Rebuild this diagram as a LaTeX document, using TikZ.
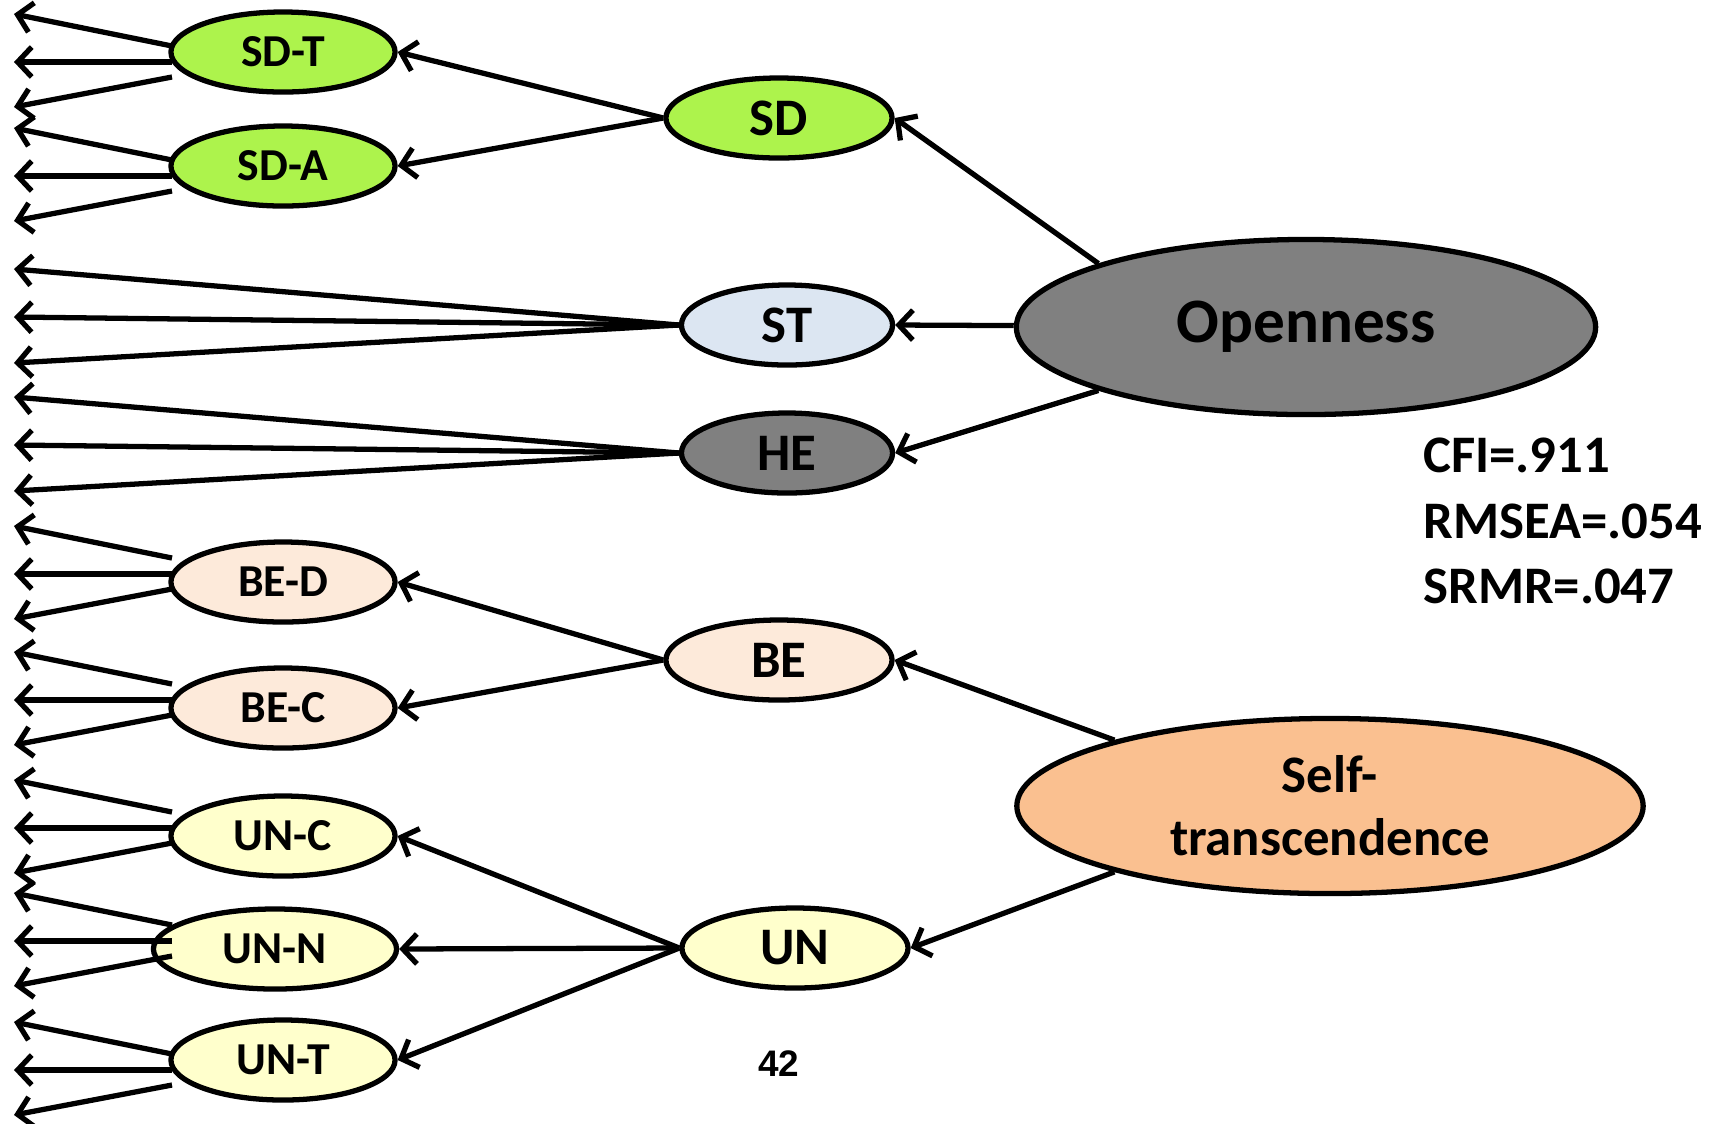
\documentclass[tikz,border=0pt]{standalone}
\usepackage{fontspec}
\setmainfont{Carlito}
\newfontfamily\pagefont{Liberation Sans}
\usetikzlibrary{shapes.geometric,arrows.meta,calc}

\definecolor{sdgreen}{HTML}{ADF34C}
\definecolor{stblue}{HTML}{DCE6F2}
\definecolor{hegray}{HTML}{808080}
\definecolor{bepeach}{HTML}{FDEADA}
\definecolor{selforange}{HTML}{FAC090}
\definecolor{unyellow}{HTML}{FFFFCC}

\begin{document}
\begin{tikzpicture}[x=0.01cm,y=-0.01cm,
	arr/.style={-{Straight Barb[length=4pt,width=8.5pt]},line width=1.5pt},
	facet/.style={ellipse,draw,line width=1.5pt,inner sep=0pt,minimum width=2.24cm,minimum height=0.8cm,font=\fontsize{13}{15}\selectfont\bfseries},
	aspect/.style={facet,minimum width=2.26cm,font=\fontsize{15}{18}\selectfont\bfseries},
	factorbox/.style={ellipse,draw,line width=1.5pt,inner sep=0pt,minimum height=1.75cm,align=center}]
	\useasboundingbox (0,0) rectangle (1714,1123);
	
	% domains
	\node[factorbox,fill=hegray,minimum width=5.79cm,font=\fontsize{18}{21}\selectfont\bfseries] (open) at (1306,327) {Openness};
	\node[factorbox,fill=selforange,minimum width=6.26cm,font=\fontsize{15}{18}\selectfont\bfseries] (self) at (1330,806) {Self-\\transcendence};
	
	% aspects
	\node[aspect,fill=sdgreen] (sd) at (779,118) {SD};
	\node[aspect,fill=stblue,minimum width=2.11cm] (st) at (787,325) {ST};
	\node[aspect,fill=hegray,minimum width=2.11cm] (he) at (787,453) {HE};
	\node[aspect,fill=bepeach] (be) at (779,660) {BE};
	\node[aspect,fill=unyellow] (un) at (795,948) {UN};
	
	% facets
	\node[facet,fill=sdgreen] (sdt) at (283,52) {SD-T};
	\node[facet,fill=sdgreen] (sda) at (283,166) {SD-A};
	\node[facet,fill=bepeach] (bed) at (283,582) {BE-D};
	\node[facet,fill=bepeach] (bec) at (283,708) {BE-C};
	\node[facet,fill=unyellow] (unc) at (283,836) {UN-C};
	\node[facet,fill=unyellow,minimum width=2.43cm] (unn) at (275,949) {UN-N};
	\node[facet,fill=unyellow] (unt) at (283,1060) {UN-T};
	
	\node[anchor=west,align=left,font=\fontsize{15}{18.6}\selectfont\bfseries] (fit) at (1411,521) {CFI=.911\\RMSEA=.054\\SRMR=.047};
	\node[font=\pagefont\fontsize{10.5}{12}\selectfont\bfseries] (page) at (779,1064) {42};
	
	\coordinate (lx) at (172,0);
	\coordinate (tx) at (14,0);
	
	\draw[arr] (open.163) -- (sd.east);
	\draw[arr] (open) -- (st.east);
	\draw[arr] (open.197) -- (he.east);
	\draw[arr] (self.163) -- (be.east);
	\draw[arr] (self.197) -- (un.east);
	
	\draw[arr] (sd.west) -- (sdt.east);
	\draw[arr] (sd.west) -- (sda.east);
	\draw[arr] (be.west) -- (bed.east);
	\draw[arr] (be.west) -- (bec.east);
	\draw[arr] (un.west) -- (unc.east);
	\draw[arr] (un.west) -- (unn.east);
	\draw[arr] (un.west) -- (unt.east);
	
	% items
	\foreach \n in {st,he}
		\foreach \b in {-56,-8,38}
			\draw[arr] (\n.west) -- ($(\n.center -| tx)+(0,\b)$);
	\foreach \n/\s in {sdt/18,sda/18,bed/0,bec/0,unc/0,unn/0,unt/18}
		\foreach \a/\b in {-24/-56,-8/-8,7/37}
			\draw[arr] ($(\n.center -| lx)+(0,\a+\s)$) -- ($(\n.center -| tx)+(0,\b+\s)$);
\end{tikzpicture}
\end{document}
